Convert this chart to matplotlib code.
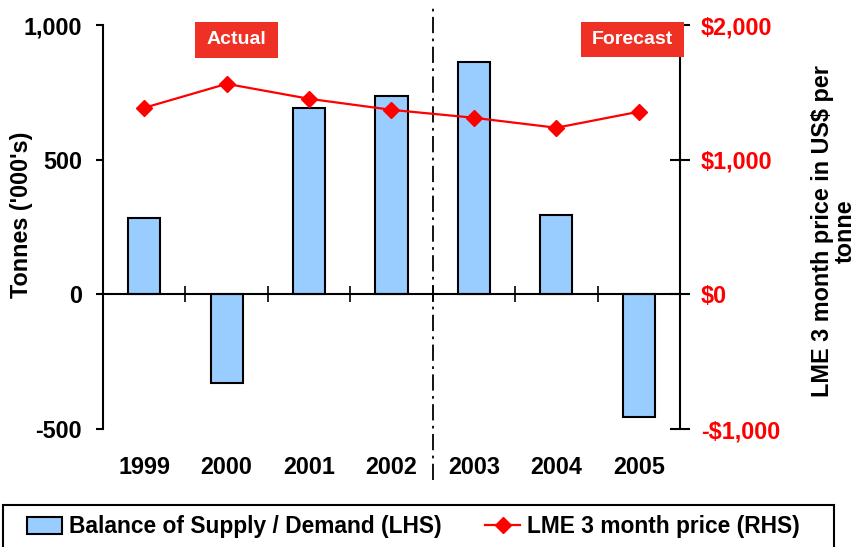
import matplotlib
matplotlib.use("Agg")
import matplotlib.pyplot as plt
from matplotlib.patches import Rectangle, Patch
from matplotlib.lines import Line2D

plt.rcParams['font.family'] = ['Liberation Sans', 'DejaVu Sans']

# Data
years = ['1999', '2000', '2001', '2002', '2003', '2004', '2005']
balance = [285, -330, 693, 737, 863, 293, -456]        # tonnes ('000s)
lme_price = [1385, 1563, 1452, 1370, 1311, 1237, 1356]  # US$ per tonne
left_ticks = [-500, 0, 500, 1000]
left_ticklabels = ['-500', '0', '500', '1,000']
right_ticks = [-1000, 0, 1000, 2000]
right_ticklabels = ['-$1,000', '$0', '$1,000', '$2,000']

W, H = 856, 547
fig = plt.figure(figsize=(W / 100, H / 100), dpi=100)

def fx(px):
    return px / W

def fy(py):
    return 1 - py / H

ax_l, ax_r, ax_t, ax_b = 103, 680, 25, 429
ax = fig.add_axes([fx(ax_l), fy(ax_b), fx(ax_r - ax_l), (ax_b - ax_t) / H])
ax2 = ax.twinx()

x = list(range(len(years)))
BLUE = '#99CCFF'
RED = '#FF0000'
FS = 16.8

# Bars on the left axis
ax.bar(x, balance, width=0.39, color=BLUE, edgecolor='black', linewidth=1.5, zorder=2)
ax.set_xlim(-0.5, len(years) - 0.5)
ax.set_ylim(-500, 1000)
ax.set_yticks(left_ticks)
ax.set_yticklabels(left_ticklabels, fontsize=FS, fontweight='bold')
ax.tick_params(axis='y', direction='out', length=5, width=1.5, pad=10)

# Category axis at zero with ticks at category boundaries
ax.spines['bottom'].set_position(('data', 0))
ax.spines['top'].set_visible(False)
ax.spines['right'].set_visible(False)
for s in ('left', 'bottom'):
    ax.spines[s].set_linewidth(1.5)
ax.set_xticks([i + 0.5 for i in range(len(years) - 1)])
ax.set_xticklabels([])
ax.tick_params(axis='x', direction='inout', length=12, width=1.2)
for i, yr in enumerate(years):
    ax.text(i, -0.095, yr, transform=ax.get_xaxis_transform(), ha='center', va='center',
            fontsize=FS, fontweight='bold')

fig.text(fx(22), fy(215), "Tonnes ('000's)", rotation=90, ha='center', va='center',
         fontsize=FS, fontweight='bold')

# Price line on the right axis
ax2.plot(x, lme_price, color=RED, linewidth=1.6, marker='D', markersize=8.5, zorder=3)
ax2.set_ylim(-1000, 2000)
ax2.set_yticks(right_ticks)
ax2.set_yticklabels(right_ticklabels, fontsize=FS, fontweight='bold', color=RED)
ax2.tick_params(axis='y', direction='inout', length=14, width=1.5, pad=8)
for s in ('left', 'top', 'bottom'):
    ax2.spines[s].set_visible(False)
ax2.spines['right'].set_linewidth(1.5)
fig.text(fx(834), fy(231), 'LME 3 month price in US$ per\ntonne', rotation=90,
         ha='center', va='center', multialignment='center', linespacing=1.0,
         fontsize=FS, fontweight='bold')

# Actual / forecast divider
ax.axvline(3.5, ymin=(ax_b - 480) / (ax_b - ax_t), ymax=(ax_b - 5) / (ax_b - ax_t),
           color='black', linewidth=1.3, linestyle=(0, (9, 3, 1.5, 3)), clip_on=False, zorder=4)

# Period labels
BOX_RED = '#EE3124'
for text, (x0, y0, x1, y1) in [('Actual', (195, 22, 278, 58)), ('Forecast', (581, 22, 684, 57))]:
    fig.patches.append(Rectangle((fx(x0), fy(y1)), fx(x1 - x0), (y1 - y0) / H,
                                 transform=fig.transFigure, facecolor=BOX_RED,
                                 edgecolor='none', zorder=10))
    fig.text(fx((x0 + x1) / 2), fy((y0 + y1) / 2), text, color='white', fontsize=14,
             fontweight='bold', ha='center', va='center', zorder=11)

# Legend
handles = [Patch(facecolor=BLUE, edgecolor='black', linewidth=1.5),
           Line2D([0], [0], color=RED, linewidth=1.6, marker='D', markersize=8.5)]
labels = ['Balance of Supply / Demand (LHS)', 'LME 3 month price (RHS)']
fig.legend(handles, labels, loc='center left', bbox_to_anchor=(fx(27), fy(527)),
           ncol=2, frameon=False, borderpad=0, borderaxespad=0, handlelength=1.55,
           handleheight=0.75, handletextpad=0.3, columnspacing=1.9,
           prop={'size': 16.4, 'weight': 'bold'})
fig.patches.append(Rectangle((fx(3), fy(552)), fx(834 - 3), (552 - 505) / H,
                             transform=fig.transFigure, facecolor='none',
                             edgecolor='black', linewidth=1.5))

fig.savefig('out.png', dpi=100)
